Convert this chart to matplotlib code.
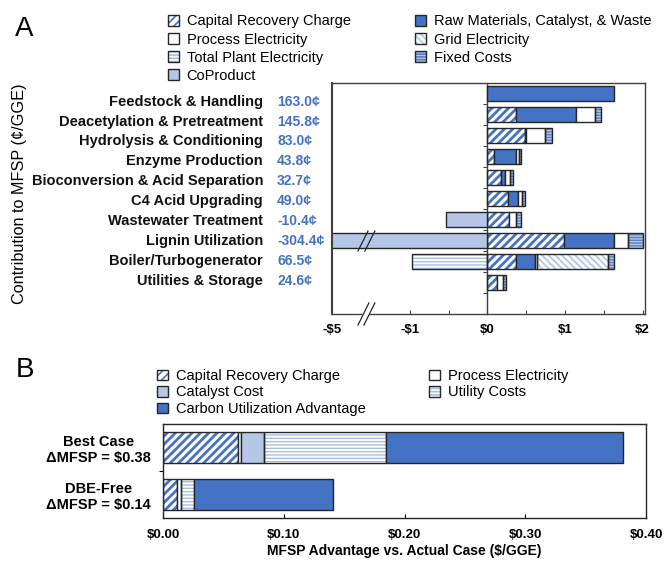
import numpy as np
import matplotlib
matplotlib.use("Agg")
from matplotlib import pyplot as plt
from matplotlib.patches import Patch
from matplotlib import transforms

plt.rcParams['font.family'] = ['Liberation Sans', 'DejaVu Sans']
plt.rcParams['text.parse_math'] = False
plt.rcParams['hatch.linewidth'] = 1.2

# ---- panel A data ($/GGE per area) ----
areas = ["Feedstock & Handling", "Deacetylation & Pretreatment", "Hydrolysis & Conditioning",
         "Enzyme Production", "Bioconversion & Acid Separation", "C4 Acid Upgrading",
         "Wastewater Treatment", "Lignin Utilization", "Boiler/Turbogenerator",
         "Utilities & Storage"]
net_cents = [163.0, 145.8, 83.0, 43.8, 32.7, 49.0, -10.4, -304.4, 66.5, 24.6]
capital = [0.0, 0.37, 0.49, 0.09, 0.17, 0.27, 0.28, 0.99, 0.37, 0.12]
raw_mat = [1.63, 0.77, 0.01, 0.28, 0.06, 0.13, 0.0, 0.64, 0.24, 0.0]
proc_elec = [0.0, 0.25, 0.24, 0.04, 0.06, 0.04, 0.09, 0.18, 0.03, 0.08]
grid_elec = [0.0, 0.0, 0.0, 0.0, 0.0, 0.0, 0.0, 0.0, 0.91, 0.0]
fixed = [0.0, 0.068, 0.09, 0.028, 0.037, 0.05, 0.06, 0.19, 0.08, 0.046]
coproduct = [0.0, 0.0, 0.0, 0.0, 0.0, 0.0, -0.534, -5.044, 0.0, 0.0]
plant_elec = [0.0, 0.0, 0.0, 0.0, 0.0, 0.0, 0.0, 0.0, -0.965, 0.0]
a_ticks = [-5, -1, 0, 1, 2]
a_ticklabels = ["-$5", "-$1", "$0", "$1", "$2"]

# ---- panel B data ($/GGE) ----
cases = ["Best Case", "DBE-Free"]
delta_mfsp = [0.38, 0.14]
b_capital = [0.0625, 0.0114]
b_process = [0.0022, 0.0033]
b_catalyst = [0.019, 0.0]
b_utility = [0.101, 0.0113]
b_carbon = [0.196, 0.1148]
b_ticks = [0.0, 0.1, 0.2, 0.3, 0.4]

BLUE = '#4472C4'
LIGHT = '#B4C7E7'
EDGE = '#262626'

# fill, hatch colour, hatch, hatch width
STY = {
    'cap': ('white', BLUE, '////', 2.0),
    'raw': (BLUE, None, None, 0),
    'proc': ('white', None, None, 0),
    'plant': ('white', '#A9BEE4', '-----', 1.0),
    'coprod': (LIGHT, None, None, 0),
    'grid': ('white', '#B4C7E7', '\\\\\\\\\\', 1.3),
    'fixed': (LIGHT, '#5B7FC0', '------', 1.0),
    'cat': (LIGHT, None, None, 0),
}


def hatch_width(patches, lw):
    for p in patches:
        if hasattr(p, 'set_hatch_linewidth'):
            p.set_hatch_linewidth(lw)


def seg(ax, y, w, left, key, h):
    y = np.asarray(y, float)
    w = np.asarray(w, float)
    left = np.asarray(left, float)
    m = w != 0
    if not m.any():
        return
    fc, hc, hatch, hlw = STY[key]
    if hatch:
        with plt.rc_context({'hatch.linewidth': hlw}):
            bars = ax.barh(y[m], w[m], left=left[m], height=h, color=fc, edgecolor=hc,
                           hatch=hatch, linewidth=0, zorder=2)
        hatch_width(bars, hlw)
        ax.barh(y[m], w[m], left=left[m], height=h, fill=False, edgecolor=EDGE,
                linewidth=1, zorder=3)
    else:
        ax.barh(y[m], w[m], left=left[m], height=h, color=fc, edgecolor=EDGE,
                linewidth=1, zorder=3)


def handle(key):
    fc, hc, hatch, hlw = STY[key]
    if hatch:
        with plt.rc_context({'hatch.linewidth': hlw}):
            p = Patch(facecolor=fc, edgecolor=hc, hatch=hatch, linewidth=0)
        hatch_width([p], hlw)
        return (p, Patch(fill=False, edgecolor=EDGE, linewidth=1))
    return Patch(facecolor=fc, edgecolor=EDGE, linewidth=1)


def fwd(x):
    x = np.asarray(x, float)
    return np.where(x < -1, -1 + (x + 1) / 4.0, x)


def inv(x):
    x = np.asarray(x, float)
    return np.where(x < -1, -1 + (x + 1) * 4.0, x)


W, H = 667, 562
fig = plt.figure(figsize=(W / 100, H / 100), dpi=100)

# ================= panel A =================
ax = fig.add_axes([332 / W, 1 - 314 / H, 313 / W, 231 / H])
ax.set_xscale('function', functions=(fwd, inv))
ypos = np.arange(len(areas))
h = 0.69
left = np.zeros(len(areas))
for vals, key in [(capital, 'cap'), (raw_mat, 'raw'), (proc_elec, 'proc'),
                  (grid_elec, 'grid'), (fixed, 'fixed')]:
    seg(ax, ypos, vals, left, key, h)
    left += np.asarray(vals)
seg(ax, ypos, coproduct, np.zeros(len(areas)), 'coprod', h)
seg(ax, ypos, plant_elec, np.zeros(len(areas)), 'plant', h)

ax.set_xlim(-5, 2.03)
ax.set_ylim(10.5, -0.5)
ax.set_xticks(a_ticks)
ax.set_xticklabels(a_ticklabels, fontweight='bold', fontsize=9.5)
ax.set_xticks([-0.5, 0.5, 1.5], minor=True)
ax.tick_params(axis='x', which='both', direction='in', length=3, width=0.8,
               pad=7, color='#404040')
ax.set_yticks(np.arange(0.5, 10, 1))
ax.set_yticklabels([])
ax.tick_params(axis='y', direction='out', length=3, width=0.8, color='#404040')
ax.spines['left'].set_position(('data', 0))
for s in ax.spines.values():
    s.set_color('#404040')
    s.set_linewidth(1)
ax.plot([0, 0], [0, 1], transform=ax.transAxes, color='#404040', lw=1.5,
        clip_on=False, zorder=4)

# axis break marks
ax.fill([0.083, 0.102, 0.137, 0.118], [-0.048, -0.048, 0.048, 0.048],
        color='white', transform=ax.transAxes, clip_on=False, zorder=5)
for x0, x1 in [(0.083, 0.118), (0.102, 0.137)]:
    ax.plot([x0, x1], [-0.048, 0.048], transform=ax.transAxes, color=EDGE,
            lw=0.9, clip_on=False, zorder=6)
bt = transforms.blended_transform_factory(ax.transAxes, ax.transData)
for x0, x1 in [(0.083, 0.115), (0.105, 0.137)]:
    ax.plot([x0, x1], [7.5, 6.55], transform=bt, color=EDGE, lw=0.9,
            clip_on=False, zorder=6)

# area names and net contributions
ly = np.linspace(101.7, 280.7, len(areas))
for name, val, yy in zip(areas, net_cents, ly):
    fig.text(263 / W, 1 - yy / H, name, ha='right', va='center',
             fontsize=10.5, fontweight='bold', color='#111111')
    fig.text(277 / W, 1 - yy / H, f"{val:.1f}¢", ha='left', va='center',
             fontsize=10, fontweight='bold', color=BLUE)

fig.text(20 / W, 1 - 194 / H, "Contribution to MFSP (¢/GGE)", rotation=90,
         ha='center', va='center', fontsize=11.7)
fig.text(24 / W, 1 - 29 / H, "A", ha='center', va='center', fontsize=20)
fig.text(25 / W, 1 - 370 / H, "B", ha='center', va='center', fontsize=20)

leg_kw = dict(loc='upper left', frameon=False, fontsize=10.5, handlelength=0.72,
              handleheight=0.72, handletextpad=0.55, labelspacing=0.28,
              borderpad=0, borderaxespad=0)
fig.legend([handle('cap'), handle('proc'), handle('plant'), handle('coprod')],
           ["Capital Recovery Charge", "Process Electricity",
            "Total Plant Electricity", "CoProduct"],
           bbox_to_anchor=(168 / W, 1 - 14.5 / H), **leg_kw)
fig.legend([handle('raw'), handle('grid'), handle('fixed')],
           ["Raw Materials, Catalyst, & Waste", "Grid Electricity", "Fixed Costs"],
           bbox_to_anchor=(415 / W, 1 - 14.5 / H), **leg_kw)

# ================= panel B =================
bx = fig.add_axes([163 / W, 1 - 518 / H, 483 / W, 94 / H])
by = np.arange(len(cases))
hb = 0.66
left = np.zeros(len(cases))
for vals, key in [(b_capital, 'cap'), (b_process, 'proc'), (b_catalyst, 'cat'),
                  (b_utility, 'plant'), (b_carbon, 'raw')]:
    seg(bx, by, vals, left, key, hb)
    left += np.asarray(vals)

bx.set_xlim(0, 0.40)
bx.set_ylim(1.5, -0.5)
bx.set_xticks(b_ticks)
bx.set_xticklabels([f"${v:.2f}" for v in b_ticks], fontweight='bold', fontsize=9.5)
bx.tick_params(axis='x', direction='in', length=3, width=0.8, pad=8)
bx.set_yticks(by)
bx.set_yticklabels([f"{c}\nΔMFSP = ${d:.2f}" for c, d in zip(cases, delta_mfsp)],
                   fontweight='bold', fontsize=10.5)
for t in bx.get_yticklabels():
    t.set_multialignment('center')
bx.tick_params(axis='y', which='major', length=0, pad=9)
bx.set_yticks([0.5], minor=True)
bx.tick_params(axis='y', which='minor', direction='out', length=3, width=0.8)
bx.set_xlabel("MFSP Advantage vs. Actual Case ($/GGE)", fontweight='bold',
              fontsize=10, labelpad=2)
for s in bx.spines.values():
    s.set_color('#262626')
    s.set_linewidth(1)

leg_kw_b = dict(leg_kw, labelspacing=0.17)
fig.legend([handle('cap'), handle('cat'), handle('raw')],
           ["Capital Recovery Charge", "Catalyst Cost", "Carbon Utilization Advantage"],
           bbox_to_anchor=(157 / W, 1 - 369 / H), **leg_kw_b)
fig.legend([handle('proc'), handle('plant')],
           ["Process Electricity", "Utility Costs"],
           bbox_to_anchor=(429 / W, 1 - 369 / H), **leg_kw_b)

fig.savefig("out.png", dpi=100)
